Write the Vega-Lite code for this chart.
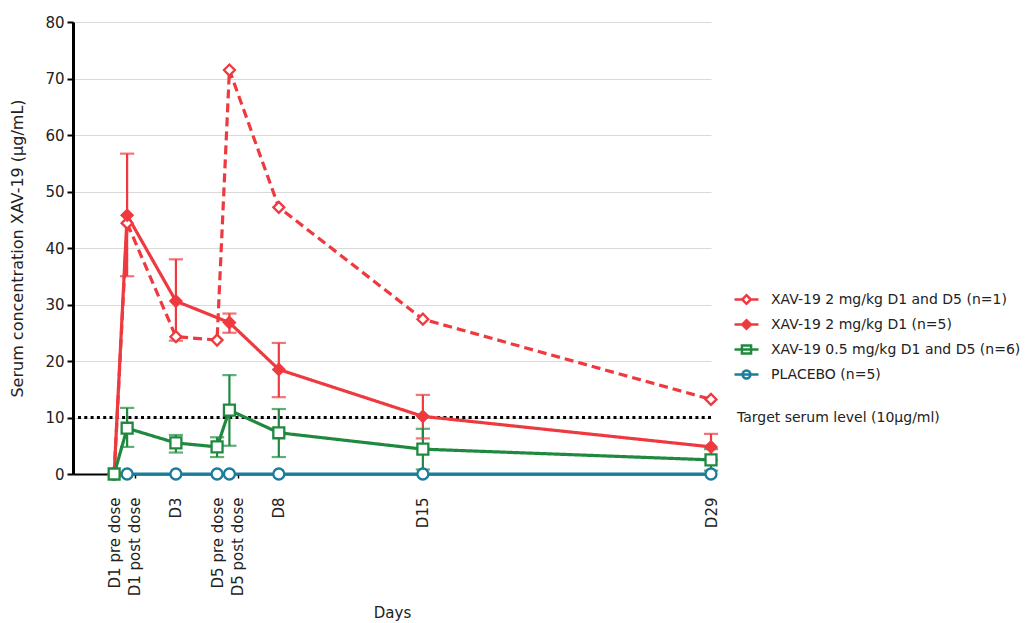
{
  "$schema": "https://vega.github.io/schema/vega-lite/v6.json",
  "width": 638,
  "height": 452,
  "autosize": {"type": "none"},
  "padding": {"left": 73, "top": 22, "right": 325, "bottom": 149},
  "background": "white",
  "config": {
    "font": "DejaVu Sans",
    "view": {"stroke": null},
    "axis": {"labelFont": "DejaVu Sans", "titleFont": "DejaVu Sans", "labelColor": "#222", "titleColor": "#222", "titleFontWeight": "normal"}
  },
  "datasets": {
    "conc": [
      {"series": "PLACEBO (n=5)", "x": 0, "y": 0},
      {"series": "PLACEBO (n=5)", "x": 0.63, "y": 0},
      {"series": "PLACEBO (n=5)", "x": 3, "y": 0},
      {"series": "PLACEBO (n=5)", "x": 5, "y": 0},
      {"series": "PLACEBO (n=5)", "x": 5.6, "y": 0},
      {"series": "PLACEBO (n=5)", "x": 8, "y": 0},
      {"series": "PLACEBO (n=5)", "x": 15, "y": 0},
      {"series": "PLACEBO (n=5)", "x": 29, "y": 0},
      {"series": "XAV-19 2 mg/kg D1 and D5 (n=1)", "x": 0, "y": 0},
      {"series": "XAV-19 2 mg/kg D1 and D5 (n=1)", "x": 0.63, "y": 44.4},
      {"series": "XAV-19 2 mg/kg D1 and D5 (n=1)", "x": 3, "y": 24.3},
      {"series": "XAV-19 2 mg/kg D1 and D5 (n=1)", "x": 5, "y": 23.7},
      {"series": "XAV-19 2 mg/kg D1 and D5 (n=1)", "x": 5.6, "y": 71.5},
      {"series": "XAV-19 2 mg/kg D1 and D5 (n=1)", "x": 8, "y": 47.2},
      {"series": "XAV-19 2 mg/kg D1 and D5 (n=1)", "x": 15, "y": 27.4},
      {"series": "XAV-19 2 mg/kg D1 and D5 (n=1)", "x": 29, "y": 13.2},
      {"series": "XAV-19 2 mg/kg D1 (n=5)", "x": 0, "y": 0},
      {"series": "XAV-19 2 mg/kg D1 (n=5)", "x": 0.63, "y": 45.8, "lo": 35.0, "hi": 56.7},
      {"series": "XAV-19 2 mg/kg D1 (n=5)", "x": 3, "y": 30.6, "lo": 23.6, "hi": 38.0},
      {"series": "XAV-19 2 mg/kg D1 (n=5)", "x": 5.6, "y": 26.8, "lo": 25.0, "hi": 28.4},
      {"series": "XAV-19 2 mg/kg D1 (n=5)", "x": 8, "y": 18.5, "lo": 13.6, "hi": 23.2},
      {"series": "XAV-19 2 mg/kg D1 (n=5)", "x": 15, "y": 10.2, "lo": 6.3, "hi": 14.0},
      {"series": "XAV-19 2 mg/kg D1 (n=5)", "x": 29, "y": 4.8, "lo": 2.5, "hi": 7.1},
      {"series": "XAV-19 0.5 mg/kg D1 and D5 (n=6)", "x": 0, "y": 0},
      {"series": "XAV-19 0.5 mg/kg D1 and D5 (n=6)", "x": 0.63, "y": 8.1, "lo": 4.8, "hi": 11.7},
      {"series": "XAV-19 0.5 mg/kg D1 and D5 (n=6)", "x": 3, "y": 5.5, "lo": 3.8, "hi": 6.9},
      {"series": "XAV-19 0.5 mg/kg D1 and D5 (n=6)", "x": 5, "y": 4.8, "lo": 3.0, "hi": 6.5},
      {"series": "XAV-19 0.5 mg/kg D1 and D5 (n=6)", "x": 5.6, "y": 11.3, "lo": 5.0, "hi": 17.5},
      {"series": "XAV-19 0.5 mg/kg D1 and D5 (n=6)", "x": 8, "y": 7.3, "lo": 3.0, "hi": 11.5},
      {"series": "XAV-19 0.5 mg/kg D1 and D5 (n=6)", "x": 15, "y": 4.4, "lo": 0.8, "hi": 8.0},
      {"series": "XAV-19 0.5 mg/kg D1 and D5 (n=6)", "x": 29, "y": 2.5, "lo": 0.6, "hi": 4.4}
    ],
    "target": [
      {"level": 10, "label": "Target serum level (10µg/ml)"}
    ]
  },
  "layer": [
    {
      "data": {"name": "target"},
      "mark": {"type": "rule", "color": "black", "strokeWidth": 3, "strokeDash": [3, 3.3]},
      "encoding": {
        "y": {"field": "level", "type": "quantitative"}
      }
    },
    {
      "data": {"name": "target"},
      "mark": {"type": "text", "align": "left", "baseline": "middle", "fontSize": 14, "font": "DejaVu Sans", "color": "#222"},
      "encoding": {
        "x": {"datum": 30.26},
        "y": {"field": "level", "type": "quantitative"},
        "text": {"field": "label"}
      }
    },
    {
      "data": {"name": "conc"},
      "transform": [{"filter": "isValid(datum.lo)"}],
      "mark": {"type": "rule", "strokeWidth": 2.2},
      "encoding": {
        "x": {"field": "x", "type": "quantitative"},
        "y": {"field": "lo", "type": "quantitative"},
        "y2": {"field": "hi"},
        "stroke": {"field": "series", "type": "nominal", "legend": null}
      }
    },
    {
      "data": {"name": "conc"},
      "transform": [{"filter": "isValid(datum.lo)"}],
      "mark": {"type": "tick", "orient": "horizontal", "size": 12, "thickness": 0.01, "filled": false, "strokeWidth": 2.2},
      "encoding": {
        "x": {"field": "x", "type": "quantitative"},
        "y": {"field": "hi", "type": "quantitative"},
        "stroke": {"field": "series", "type": "nominal", "legend": null}
      }
    },
    {
      "data": {"name": "conc"},
      "transform": [{"filter": "isValid(datum.lo)"}],
      "mark": {"type": "tick", "orient": "horizontal", "size": 12, "thickness": 0.01, "filled": false, "strokeWidth": 2.2},
      "encoding": {
        "x": {"field": "x", "type": "quantitative"},
        "y": {"field": "lo", "type": "quantitative"},
        "stroke": {"field": "series", "type": "nominal", "legend": null}
      }
    },
    {
      "data": {"name": "conc"},
      "mark": {"type": "line", "strokeWidth": 3.2},
      "encoding": {
        "x": {
          "field": "x", "type": "quantitative",
          "scale": {"domain": [-2, 29], "nice": false, "zero": false},
          "axis": {
            "title": "Days",
            "values": [0, 1, 3, 5, 6, 8, 15, 29],
            "labelExpr": "datum.value == 0 ? 'D1 pre dose' : datum.value == 1 ? 'D1 post dose' : datum.value == 3 ? 'D3' : datum.value == 5 ? 'D5 pre dose' : datum.value == 6 ? 'D5 post dose' : datum.value == 8 ? 'D8' : datum.value == 15 ? 'D15' : 'D29'",
            "labelAngle": 270,
            "labelFontSize": 15,
            "labelPadding": 19,
            "labelOverlap": false,
            "labelFlush": false,
            "grid": false,
            "domainColor": "black",
            "domainWidth": 2,
            "tickColor": "black",
            "tickSize": 4,
            "tickWidth": 1.5,
            "titleFontSize": 15,
            "titlePadding": 10
          }
        },
        "y": {
          "field": "y", "type": "quantitative",
          "scale": {"domain": [0, 80], "nice": false},
          "axis": {
            "title": "Serum concentration XAV-19 (µg/mL)",
            "values": [0, 10, 20, 30, 40, 50, 60, 70, 80],
            "labelFontSize": 15,
            "labelPadding": 3,
            "gridColor": "#d9d9d9",
            "gridWidth": 1,
            "domainColor": "black",
            "domainWidth": 3,
            "tickColor": "black",
            "tickSize": 6,
            "tickWidth": 2,
            "titleFontSize": 16,
            "titlePadding": 19
          }
        },
        "color": {
          "field": "series", "type": "nominal",
          "scale": {
            "domain": ["XAV-19 2 mg/kg D1 and D5 (n=1)", "XAV-19 2 mg/kg D1 (n=5)", "XAV-19 0.5 mg/kg D1 and D5 (n=6)", "PLACEBO (n=5)"],
            "range": ["#ee3a3f", "#ee3a3f", "#1f8a3f", "#1b7c9b"]
          },
          "legend": {
            "title": null,
            "orient": "none",
            "legendX": 660,
            "legendY": 264,
            "padding": 0,
            "symbolSize": 576,
            "labelOffset": 11,
            "labelFontSize": 14,
            "labelFont": "DejaVu Sans",
            "labelColor": "#222",
            "labelLimit": 400,
            "rowPadding": 2,
            "encode": {
              "symbols": {
                "update": {
                  "shape": {"signal": "datum.value === 'XAV-19 2 mg/kg D1 and D5 (n=1)' ? 'M-1,0H-0.36M0.36,0H1M0,-0.36L0.36,0L0,0.36L-0.36,0Z' : datum.value === 'XAV-19 2 mg/kg D1 (n=5)' ? 'M-1,0H1M0,-0.36L0.36,0L0,0.36L-0.36,0Z' : datum.value === 'XAV-19 0.5 mg/kg D1 and D5 (n=6)' ? 'M-1,0H1M-0.38,-0.33H0.38V0.33H-0.38Z' : 'M-1,0H1M-0.33,0A0.33,0.33 0 1,0 0.33,0A0.33,0.33 0 1,0 -0.33,0Z'"},
                  "fill": {"signal": "datum.value === 'XAV-19 2 mg/kg D1 (n=5)' ? '#ee3a3f' : 'white'"},
                  "stroke": {"signal": "datum.value === 'XAV-19 0.5 mg/kg D1 and D5 (n=6)' ? '#1f8a3f' : datum.value === 'PLACEBO (n=5)' ? '#1b7c9b' : '#ee3a3f'"},
                  "fillOpacity": {"value": 1},
                  "strokeOpacity": {"value": 1},
                  "strokeWidth": {"value": 2.5},
                  "strokeDash": {"value": []},
                  "size": {"value": 576},
                  "opacity": {"value": 1}
                }
              }
            }
          }
        },
        "strokeDash": {
          "field": "series", "type": "nominal",
          "scale": {
            "domain": ["PLACEBO (n=5)", "XAV-19 0.5 mg/kg D1 and D5 (n=6)", "XAV-19 2 mg/kg D1 (n=5)", "XAV-19 2 mg/kg D1 and D5 (n=1)"],
            "range": [[1, 0], [1, 0], [1, 0], [9, 5]]
          },
          "legend": null
        }
      }
    },
    {
      "data": {"name": "conc"},
      "mark": {"type": "point", "filled": true, "strokeWidth": 2.3, "opacity": 1, "size": 120},
      "encoding": {
        "x": {"field": "x", "type": "quantitative"},
        "y": {"field": "y", "type": "quantitative"},
        "shape": {
          "field": "series", "type": "nominal",
          "scale": {
            "domain": ["PLACEBO (n=5)", "XAV-19 0.5 mg/kg D1 and D5 (n=6)", "XAV-19 2 mg/kg D1 (n=5)", "XAV-19 2 mg/kg D1 and D5 (n=1)"],
            "range": ["circle", "square", "diamond", "diamond"]
          },
          "legend": null
        },
        "fill": {
          "field": "series", "type": "nominal",
          "scale": {
            "domain": ["PLACEBO (n=5)", "XAV-19 0.5 mg/kg D1 and D5 (n=6)", "XAV-19 2 mg/kg D1 (n=5)", "XAV-19 2 mg/kg D1 and D5 (n=1)"],
            "range": ["white", "white", "#ee3a3f", "white"]
          },
          "legend": null
        },
        "stroke": {
          "field": "series", "type": "nominal",
          "scale": {
            "domain": ["PLACEBO (n=5)", "XAV-19 0.5 mg/kg D1 and D5 (n=6)", "XAV-19 2 mg/kg D1 (n=5)", "XAV-19 2 mg/kg D1 and D5 (n=1)"],
            "range": ["#1b7c9b", "#1f8a3f", "#ee3a3f", "#ee3a3f"]
          },
          "legend": null
        }
      }
    }
  ]
}
